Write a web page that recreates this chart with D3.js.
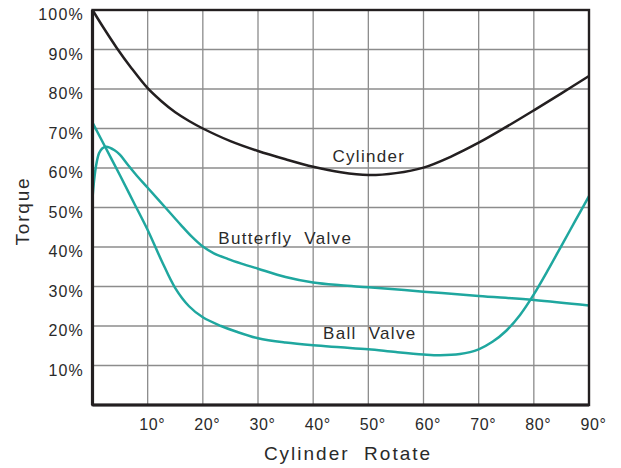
<!DOCTYPE html>
<html>
<head>
<meta charset="utf-8">
<script src="https://cdn.jsdelivr.net/npm/d3@7"></script>
<style>
  html, body { margin: 0; padding: 0; background: #fff; }
  svg text { font-family: "Liberation Sans", Arial, sans-serif; fill: #2a2a2a; white-space: pre; }
</style>
</head>
<body>
<svg id="chart" width="621" height="468"></svg>
<script>
// ---- data ----
const xTicks = [10, 20, 30, 40, 50, 60, 70, 80, 90];
const xTickLabels = ["10°", "20°", "30°", "40°", "50°", "60°", "70°", "80°", "90°"];
const yTicks = [10, 20, 30, 40, 50, 60, 70, 80, 90, 100];
const yTickLabels = ["10%", "20%", "30%", "40%", "50%", "60%", "70%", "80%", "90%", "100%"];

const cylinderAngle = [0, 2, 4.4, 7, 10, 12.5, 15, 17.5, 20, 25, 30, 35, 40, 45, 50, 55, 60, 65, 70, 75, 80, 85, 90];
const cylinderTorque = [100, 95.5, 90.4, 85.4, 80.2, 76.9, 74.1, 71.9, 70, 66.8, 64.3, 62.2, 60.3, 58.9, 58.2, 58.7, 60.1, 62.9, 66.4, 70.4, 74.6, 78.9, 83.3];

const butterflyAngle = [0, 0.3, 0.7, 1.2, 1.8, 2.5, 4, 5, 6.4, 8, 10, 13.2, 16, 18, 20, 22, 24.5, 27, 30, 35, 40, 45, 50, 60, 70, 80, 90];
const butterflyTorque = [52.3, 57, 61, 63.8, 65, 65.4, 64.5, 63.3, 60.8, 58.1, 55, 50, 45.6, 42.6, 40.1, 38.4, 37, 35.8, 34.5, 32.4, 31, 30.3, 29.8, 28.7, 27.6, 26.6, 25.2];

const ballAngle = [0, 2.5, 5, 7.5, 10, 12.5, 15, 17.5, 20, 23.3, 26, 30, 35, 40, 45, 50, 55, 60, 63, 66.6, 70, 72.5, 75, 77.5, 80, 82.5, 85, 87.5, 90];
const ballTorque = [71.5, 64.8, 58.1, 51.2, 44.3, 36.6, 29.6, 25, 22.2, 20, 18.6, 16.9, 15.8, 15.1, 14.6, 14.1, 13.4, 12.8, 12.6, 12.9, 14.1, 16, 18.8, 22.8, 28, 34, 40.3, 46.6, 52.9];

const seriesNames = ["Cylinder", "Butterfly  Valve", "Ball  Valve"];
const seriesLabelPos = [[43.5, 61.6], [22.8, 40.8], [41.8, 16.7]]; // data coords of label start
const xTitle = "Cylinder  Rotate";
const yTitle = "Torque";

// ---- drawing ----
const svg = d3.select("#chart");
const x = d3.scaleLinear().domain([0, 90]).range([92.5, 589]);
const y = d3.scaleLinear().domain([0, 100]).range([405, 10]);

const ink = "#231f20";
const textInk = "#2a2a2a";
const teal = "#1fa79f";

// grid
svg.append("g").selectAll("line").data(xTicks.filter(d => d < 90)).join("line")
  .attr("x1", d => x(d)).attr("x2", d => x(d))
  .attr("y1", y(0)).attr("y2", y(100))
  .attr("stroke", "#8c8c8c").attr("stroke-width", 1.3);
svg.append("g").selectAll("line").data(yTicks.filter(d => d < 100)).join("line")
  .attr("y1", d => y(d)).attr("y2", d => y(d))
  .attr("x1", x(0)).attr("x2", x(90))
  .attr("stroke", "#8c8c8c").attr("stroke-width", 1.3);

// curves
const line = d3.line().x(d => x(d[0])).y(d => y(d[1])).curve(d3.curveCatmullRom.alpha(0.5));
const series = [
  { a: cylinderAngle, t: cylinderTorque, c: ink },
  { a: butterflyAngle, t: butterflyTorque, c: teal },
  { a: ballAngle, t: ballTorque, c: teal }
];
series.forEach(s => {
  svg.append("path")
    .datum(s.a.map((a, i) => [a, s.t[i]]))
    .attr("d", line)
    .attr("fill", "none")
    .attr("stroke", s.c)
    .attr("stroke-width", 2.5)
    .attr("stroke-linejoin", "round");
});

// frame
svg.append("rect")
  .attr("x", x(0)).attr("y", y(100))
  .attr("width", x(90) - x(0)).attr("height", y(0) - y(100))
  .attr("fill", "none").attr("stroke", ink).attr("stroke-width", 2.4);
svg.append("line").attr("x1", x(0)).attr("x2", x(0)).attr("y1", y(100)).attr("y2", y(0))
  .attr("stroke", ink).attr("stroke-width", 3.2);
svg.append("line").attr("x1", x(0)).attr("x2", x(90)).attr("y1", y(0)).attr("y2", y(0))
  .attr("stroke", ink).attr("stroke-width", 3);

// axes labels via d3 axes (no domain/ticks lines)
const xAxis = d3.axisBottom(x).tickValues(xTicks).tickSize(0).tickPadding(0)
  .tickFormat((d, i) => xTickLabels[i]);
const gx = svg.append("g").attr("transform", `translate(4, ${y(0) + 14})`).call(xAxis);
gx.select(".domain").remove();
gx.selectAll("text").attr("font-size", 16).attr("letter-spacing", 0.6)
  .attr("font-family", "'Liberation Sans', Arial, sans-serif").attr("fill", textInk)
  .attr("dy", "0.71em");

const yAxis = d3.axisLeft(y).tickValues(yTicks).tickSize(0).tickPadding(0)
  .tickFormat((d, i) => yTickLabels[i]);
const gy = svg.append("g").attr("transform", `translate(84, 0)`).call(yAxis);
gy.select(".domain").remove();
gy.selectAll("text").attr("font-size", 16).attr("letter-spacing", 1.2)
  .attr("font-family", "'Liberation Sans', Arial, sans-serif").attr("fill", textInk)
  .attr("dy", "0.62em");

// series labels
svg.append("g").selectAll("text").data(seriesNames).join("text")
  .attr("x", (d, i) => x(seriesLabelPos[i][0]))
  .attr("y", (d, i) => y(seriesLabelPos[i][1]))
  .attr("font-size", 17).attr("letter-spacing", 1.3)
  .text(d => d);

// axis titles
svg.append("text").attr("x", 348).attr("y", 460).attr("text-anchor", "middle")
  .attr("font-size", 19).attr("letter-spacing", 2).text(xTitle);
svg.append("text").attr("transform", "translate(29, 211) rotate(-90)")
  .attr("text-anchor", "middle").attr("font-size", 19).attr("letter-spacing", 1.8).text(yTitle);
</script>
</body>
</html>
